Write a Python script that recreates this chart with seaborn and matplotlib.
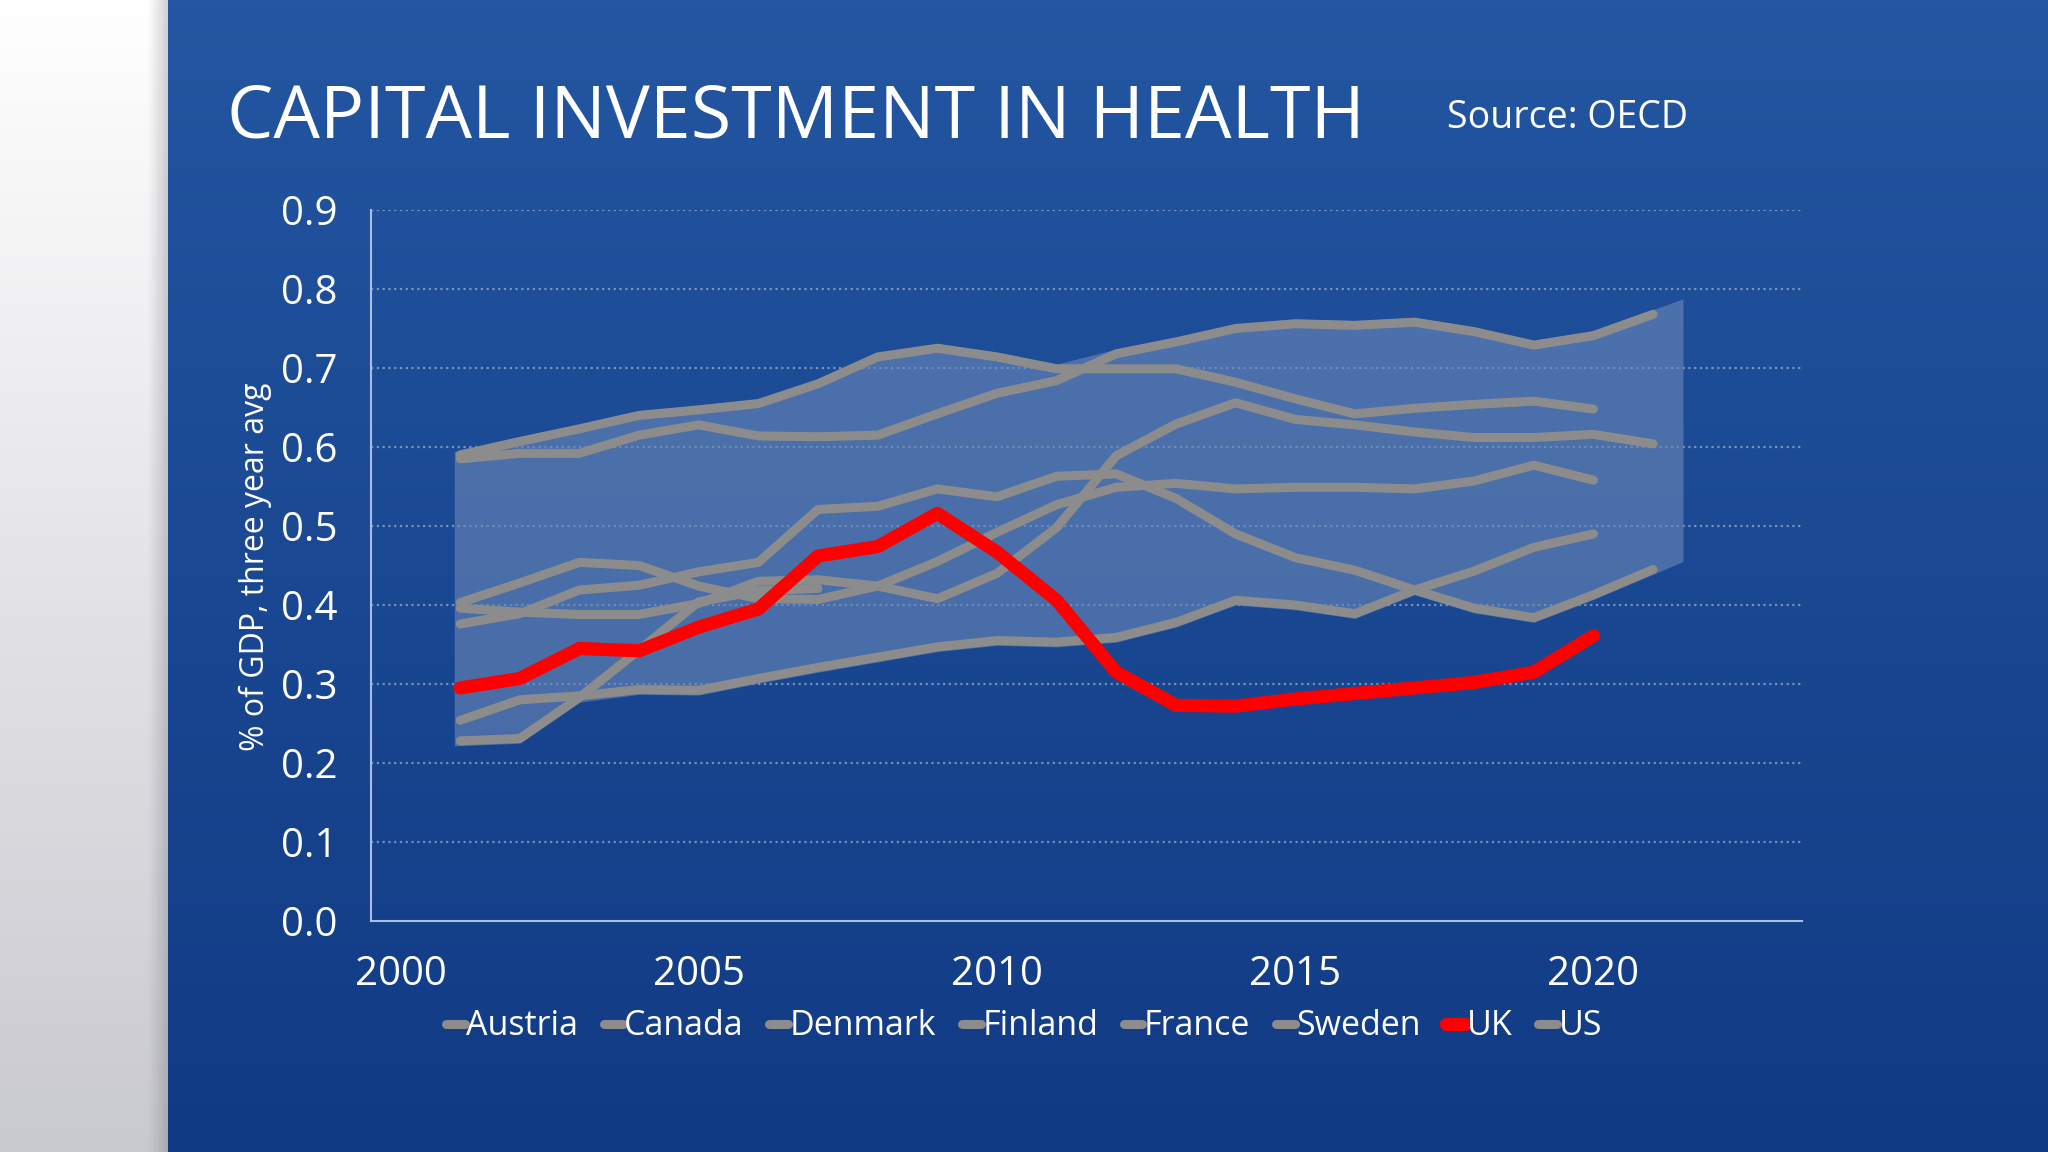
import numpy as np
import pandas as pd
import matplotlib
matplotlib.use('Agg')
import matplotlib.pyplot as plt
from matplotlib.colors import LinearSegmentedColormap
import seaborn as sns

# Data: % of GDP, three year avg, 2001-2021
years = list(range(2001, 2022))
nan = np.nan
austria = [0.590, 0.607, 0.623, 0.640, 0.647, 0.655, 0.680, 0.714, 0.725, 0.714, 0.699,
           0.699, 0.699, 0.682, 0.661, 0.642, 0.649, 0.654, 0.658, 0.648, nan]
canada = [0.376, 0.389, 0.419, 0.425, 0.442, 0.454, 0.521, 0.525, 0.547, 0.537, 0.563,
          0.566, 0.535, 0.490, 0.460, 0.444, 0.419, 0.396, 0.384, 0.413, 0.445]
denmark = [0.396, 0.391, 0.388, 0.388, 0.402, 0.430, 0.432, 0.424, 0.408, 0.440, 0.498,
           0.589, 0.629, 0.656, 0.635, 0.628, 0.619, 0.612, 0.612, 0.616, 0.604]
finland = [0.228, 0.231, 0.283, 0.343, 0.404, 0.418, 0.421, nan, nan, nan, nan,
           nan, nan, nan, nan, nan, nan, nan, nan, nan, nan]
france = [0.254, 0.280, 0.285, 0.293, 0.292, 0.307, 0.321, 0.334, 0.347, 0.355, 0.353,
          0.359, 0.378, 0.406, 0.400, 0.389, 0.419, 0.443, 0.473, 0.490, nan]
sweden = [0.403, 0.428, 0.454, 0.450, 0.424, 0.408, 0.407, 0.424, 0.455, 0.492, 0.527,
          0.549, 0.554, 0.547, 0.549, 0.549, 0.547, 0.557, 0.577, 0.558, nan]
uk = [0.295, 0.307, 0.345, 0.342, 0.372, 0.395, 0.462, 0.474, 0.516, 0.467, 0.406,
      0.315, 0.273, 0.272, 0.281, 0.288, 0.295, 0.302, 0.315, 0.361, nan]
us = [0.585, 0.592, 0.592, 0.615, 0.628, 0.614, 0.613, 0.615, 0.642, 0.668, 0.684,
      0.718, 0.733, 0.750, 0.756, 0.754, 0.758, 0.746, 0.729, 0.741, 0.768]

countries = ['Austria', 'Canada', 'Denmark', 'Finland', 'France', 'Sweden', 'UK', 'US']
series = [austria, canada, denmark, finland, france, sweden, uk, us]
x_ticks = [2000, 2005, 2010, 2015, 2020]
y_ticks = [0.0, 0.1, 0.2, 0.3, 0.4, 0.5, 0.6, 0.7, 0.8, 0.9]

wide = pd.DataFrame(dict(zip(countries, series)), index=years)
df = wide.reset_index(names='year').melt(id_vars='year', var_name='country',
                                         value_name='value').dropna()

sns.set_theme(style='white')
plt.rcParams['font.family'] = ['Open Sans', 'DejaVu Sans']

fig = plt.figure(figsize=(20.48, 11.52), dpi=100)

# background: white/grey strip on the left, blue gradient panel
bg = fig.add_axes([0, 0, 1, 1], zorder=-10)
bg.set_xlim(0, 1)
bg.set_ylim(0, 1)
bg.axis('off')
grad = np.linspace(0, 1, 256).reshape(-1, 1)
white_cmap = LinearSegmentedColormap.from_list('w', ['#ffffff', '#c9c9d0'])
blue_cmap = LinearSegmentedColormap.from_list('b', ['#2456a1', '#113a84'])
bg.imshow(grad, cmap=white_cmap, extent=[0, 0.082, 0, 1], aspect='auto', origin='upper')
bg.imshow(grad, cmap=blue_cmap, extent=[0.082, 1, 0, 1], aspect='auto', origin='upper')
for i, a in enumerate(np.linspace(0.25, 0.02, 8)):
    bg.axvspan(0.082 - (i + 1) * 0.0012, 0.082 - i * 0.0012, color='#555560', alpha=a, lw=0)

ax = fig.add_axes([0.181, 0.2005, 0.699, 0.6172])
ax.set_facecolor('none')

# min-max envelope of the comparison countries
grey = wide.drop(columns='UK')
lo = grey.min(axis=1).values - 0.006
hi = grey.max(axis=1).values + 0.006
bx = np.r_[years[0] - 0.1, years, years[-1] + 0.5]
blo = np.r_[lo[0] - 0.1 * (lo[1] - lo[0]), lo, lo[-1] + 0.5 * (lo[-1] - lo[-2])]
bhi = np.r_[hi[0] - 0.1 * (hi[1] - hi[0]), hi, hi[-1] + 0.5 * (hi[-1] - hi[-2])]
ax.fill_between(bx, blo, bhi, color='#6a88b8', alpha=0.6, lw=0, zorder=2)

for c in countries:
    is_uk = c == 'UK'
    sns.lineplot(data=df[df.country == c], x='year', y='value', ax=ax, label=c,
                 color='#ff0000' if is_uk else '#8c8c8c', linewidth=9.5 if is_uk else 6.5,
                 solid_capstyle='round', zorder=5 if is_uk else 4, errorbar=None)

ax.set_xlim(1999.5, 2023.5)
ax.set_ylim(0, 0.9)
ax.set_xticks(x_ticks)
ax.set_yticks(y_ticks)
ax.set_yticklabels([f'{v:.1f}' for v in y_ticks])
ax.set_xlabel('')
ax.set_ylabel('')
ax.tick_params(axis='both', length=0, colors='white', labelsize=29)
ax.tick_params(axis='y', pad=24)
ax.tick_params(axis='x', pad=24)
for v in y_ticks[1:]:
    ax.axhline(v, color='white', alpha=0.4, lw=1.6, ls=(0, (1, 1.6)), zorder=1)
for s in ['top', 'right']:
    ax.spines[s].set_visible(False)
for s in ['left', 'bottom']:
    ax.spines[s].set_color('#a9bde0')
    ax.spines[s].set_linewidth(1.5)

handles, labels = ax.get_legend_handles_labels()
ax.get_legend().remove()
fig.legend(handles, labels, loc='center', bbox_to_anchor=(0.5, 0.109), ncol=8,
           frameon=False, fontsize=24.5, labelcolor='white', handlelength=0.55,
           handletextpad=0.05, columnspacing=0.75)

fig.text(0.111, 0.897, 'CAPITAL INVESTMENT IN HEALTH', color='white', fontsize=53,
         va='center', ha='left')
fig.text(0.7065, 0.898, 'Source: OECD', color='white', fontsize=27, va='center', ha='left')
fig.text(0.1245, 0.508, '% of GDP, three year avg', color='white', fontsize=23,
         rotation=90, va='center', ha='center')

fig.savefig('out.png', dpi=100)
